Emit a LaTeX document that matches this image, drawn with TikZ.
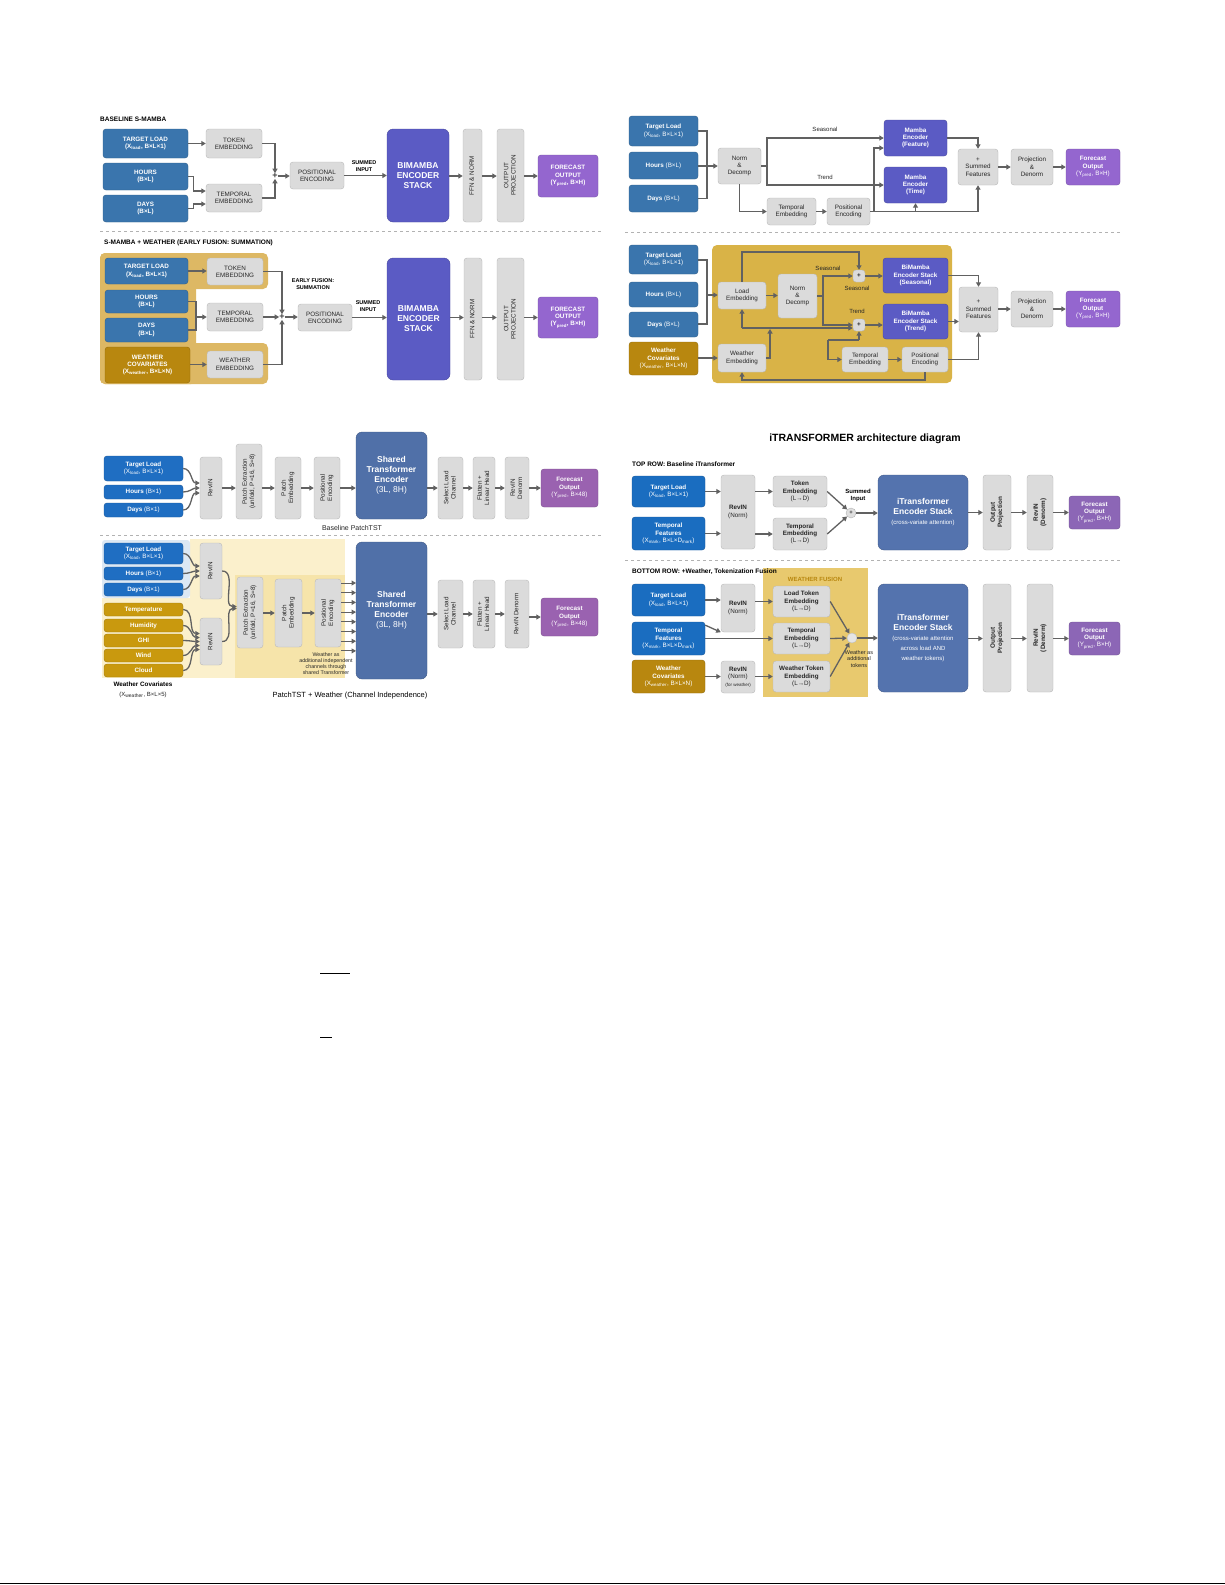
\documentclass[tikz,border=0pt]{standalone}
\usepackage{fontspec}
\setmainfont{Liberation Sans}
\usetikzlibrary{arrows.meta,calc}
\definecolor{smb}{HTML}{3A75AD}
\definecolor{bim}{HTML}{5B5BC4}
\definecolor{fcp}{HTML}{9466CF}
\definecolor{gdk}{HTML}{B8870F}
\definecolor{gbgA}{HTML}{DDB864}
\definecolor{gbgB}{HTML}{D9B347}
\definecolor{ptb}{HTML}{1F6EC2}
\definecolor{trb}{HTML}{5070A8}
\definecolor{fcq}{HTML}{9A62B0}
\definecolor{gch}{HTML}{C9990E}
\definecolor{cLb}{HTML}{DCE8F4}
\definecolor{ly1}{HTML}{FBF0CC}
\definecolor{ly2}{HTML}{F6E4AA}
\definecolor{itb}{HTML}{1A6DC0}
\definecolor{itr}{HTML}{5473AE}
\definecolor{fcr}{HTML}{8C66B6}
\definecolor{wfb}{HTML}{E8C96E}
\newcommand\rt[1]{\rotatebox{90}{\begin{tabular}{@{}c@{}}#1\end{tabular}}}
\newcommand\B[7]{\node[#2, minimum width={(#5-#3)*1pt}, minimum height={(#6-#4)*1pt}] (#1) at ({(#3+#5)/2},{(#4+#6)/2}) {#7};}
\tikzset{
 x=1pt,y=-1pt,
 base/.style={rounded corners=3pt, align=center, inner sep=0.5pt, font=\fontsize{6.3}{7.3}\selectfont},
 gb/.style={base, fill=gray!28, draw=gray!55, text=black!85},
 cb/.style={base, fill=#1, draw=#1!80!black, text=white, font=\bfseries\fontsize{6.3}{7.3}\selectfont},
 big/.style={base, fill=#1, draw=#1!80!black, text=white, rounded corners=6pt, font=\bfseries\fontsize{8.5}{10}\selectfont},
 ttl/.style={anchor=west, inner sep=0, font=\bfseries\fontsize{6.5}{8}\selectfont},
 lab/.style={inner sep=0, align=center, font=\fontsize{6}{7}\selectfont, text=black!85},
 blab/.style={inner sep=0, align=center, font=\bfseries\fontsize{5.5}{6.5}\selectfont},
 pls/.style={inner sep=0, font=\bfseries\fontsize{9}{9}\selectfont, text=black!75},
 ln/.style={draw=black!62, line width=1.3pt},
 arr/.style={draw=black!62, line width=1.3pt, -{Triangle[length=4.5pt,width=5pt]}},
 dsh/.style={draw=gray!60, dashed, line width=0.7pt},
}
\begin{document}
\begin{tikzpicture}
\useasboundingbox[fill=white] (0,0) rectangle (1225,1585);
%================ PANEL 1 =================
\node[ttl] (p1t) at (100,119) {BASELINE S-MAMBA};
\B{p1tl}{cb=smb}{103}{129}{188}{158}{TARGET LOAD\\(X\textsubscript{load}, B×L×1)}
\B{p1hr}{cb=smb}{103}{163}{188}{190}{HOURS\\(B×L)}
\B{p1dy}{cb=smb}{103}{195}{188}{222}{DAYS\\(B×L)}
\B{p1tok}{gb}{206}{129}{262}{158}{TOKEN\\EMBEDDING}
\B{p1tmp}{gb}{206}{184}{262}{212}{TEMPORAL\\EMBEDDING}
\node[pls] (p1pl) at (275,176) {+};
\B{p1pos}{gb}{290}{162}{344}{189}{POSITIONAL\\ENCODING}
\node[blab] (p1sum) at (364,166) {SUMMED\\INPUT};
\B{p1bim}{big=bim}{387}{129}{449}{222}{BIMAMBA\\ENCODER\\STACK}
\B{p1ffn}{gb}{463}{129}{482}{222}{\rt{FFN \& NORM}}
\B{p1out}{gb}{497}{129}{524}{222}{\rt{OUTPUT\\PROJECTION}}
\B{p1fc}{cb=fcp}{538}{155}{598}{197}{FORECAST\\OUTPUT\\(Y\textsubscript{pred}, B×H)}
\draw[arr] (p1tl.east) -- (p1tl.east -| p1tok.west);
\draw[arr] (p1tok.east) -| (p1pl.north);
\draw[arr] (p1tmp.east) -| (p1pl.south);
\draw[arr] (p1hr.east) -- ++(5,0) |- ($(p1tmp.west)+(0,-7)$);
\draw[arr] (p1dy.east) -- ++(5,0) |- ($(p1tmp.west)+(0,6)$);
\draw[arr] (p1pl.east) -- (p1pl.east -| p1pos.west);
\draw[arr] (p1pos.east) -- (p1pos.east -| p1bim.west);
\draw[arr] (p1bim.east |- p1fc.west) -- (p1ffn.west |- p1fc.west);
\draw[arr] (p1ffn.east |- p1fc.west) -- (p1out.west |- p1fc.west);
\draw[arr] (p1out.east |- p1fc.west) -- (p1fc.west);
\draw[dsh] (100,231) -- (602,231);
%================ PANEL 1b =================
\fill[gbgA, rounded corners=5pt] (100,253) rectangle (268,289);
\fill[gbgA, rounded corners=5pt] (100,253) rectangle (196,384);
\fill[gbgA, rounded corners=5pt] (100,343) rectangle (268,384);
\node[ttl] (p2t) at (104,243) {S-MAMBA + WEATHER (EARLY FUSION: SUMMATION)};
\B{p2tl}{cb=smb}{105}{258}{188}{284}{TARGET LOAD\\(X\textsubscript{load}, B×L×1)}
\B{p2hr}{cb=smb}{105}{290}{188}{313}{HOURS\\(B×L)}
\B{p2dy}{cb=smb}{105}{318}{188}{342}{DAYS\\(B×L)}
\B{p2wc}{cb=gdk}{105}{347}{190}{383}{WEATHER\\COVARIATES\\(X\textsubscript{weather}, B×L×N)}
\B{p2tok}{gb}{207}{258}{263}{285}{TOKEN\\EMBEDDING}
\B{p2tmp}{gb}{207}{303}{263}{331}{TEMPORAL\\EMBEDDING}
\B{p2wem}{gb}{207}{351}{263}{378}{WEATHER\\EMBEDDING}
\node[pls] (p2pl) at (282,317) {+};
\node[blab] (p2ef) at (313,284) {EARLY FUSION:\\SUMMATION};
\B{p2pos}{gb}{298}{304}{352}{331}{POSITIONAL\\ENCODING}
\node[blab] (p2sum) at (368,306) {SUMMED\\INPUT};
\B{p2bim}{big=bim}{387}{258}{450}{380}{BIMAMBA\\ENCODER\\STACK}
\B{p2ffn}{gb}{464}{258}{482}{380}{\rt{FFN \& NORM}}
\B{p2out}{gb}{497}{258}{524}{380}{\rt{OUTPUT\\PROJECTION}}
\B{p2fc}{cb=fcp}{538}{297}{598}{338}{FORECAST\\OUTPUT\\(Y\textsubscript{pred}, B×H)}
\coordinate (p2br) at (196,317);
\draw[ln] (p2hr.east) -| (p2br) |- (p2dy.east);
\draw[arr] (p2br) -- (p2br -| p2tmp.west);
\draw[arr] (p2tl.east) -- (p2tl.east -| p2tok.west);
\draw[arr] (p2wc.east |- p2wem.west) -- (p2wem.west);
\draw[arr] (p2tok.east) -| (p2pl.north);
\draw[arr] (p2tmp.east |- p2pl.west) -- (p2pl.west);
\draw[arr] (p2wem.east) -| (p2pl.south);
\draw[arr] (p2pl.east) -- (p2pl.east -| p2pos.west);
\draw[arr] (p2pos.east) -- (p2pos.east -| p2bim.west);
\draw[arr] (p2bim.east |- p2fc.west) -- (p2ffn.west |- p2fc.west);
\draw[arr] (p2ffn.east |- p2fc.west) -- (p2out.west |- p2fc.west);
\draw[arr] (p2out.east |- p2fc.west) -- (p2fc.west);
%================ PANEL 2 =================
\B{p3tl}{cb=smb}{629}{116}{698}{146}{Target Load\\\mdseries(X\textsubscript{load}, B×L×1)}
\B{p3hr}{cb=smb}{629}{152}{698}{179}{Hours \mdseries(B×L)}
\B{p3dy}{cb=smb}{629}{185}{698}{212}{Days \mdseries(B×L)}
\B{p3nd}{gb}{718}{148}{761}{184}{Norm\\\&\\Decomp}
\B{p3mf}{cb=bim}{884}{120}{947}{156}{Mamba\\Encoder\\(Feature)}
\B{p3mt}{cb=bim}{884}{167}{947}{203}{Mamba\\Encoder\\(Time)}
\B{p3te}{gb}{767}{198}{816}{225}{Temporal\\Embedding}
\B{p3pe}{gb}{827}{198}{870}{225}{Positional\\Encoding}
\B{p3sf}{gb}{958}{149}{998}{185}{+\\Summed\\Features}
\B{p3pd}{gb}{1011}{149}{1053}{185}{Projection\\\&\\Denorm}
\B{p3fc}{cb=fcp}{1066}{149}{1120}{185}{Forecast\\Output\\\mdseries(Y\textsubscript{pred}, B×H)}
\node[lab] (p3sl) at (825,129) {Seasonal};
\node[lab] (p3trl) at (825,177) {Trend};
\coordinate (p3b) at (707,166);
\draw[ln] (p3tl.east) -| (p3b) |- (p3dy.east);
\draw[arr] (p3hr.east |- p3nd.west) -- (p3nd.west);
\coordinate (p3s) at (767,166);
\draw[ln] (p3nd.east) -- (p3s);
\draw[arr] (p3s) |- (p3mf.west);
\draw[arr] (p3s) |- (p3mt.west);
\draw[arr] (p3nd.south) |- (p3te.west);
\draw[arr] (p3te.east) -- (p3te.east -| p3pe.west);
\coordinate (p3j) at (874,211.5);
\draw[arr] (p3pe.east) -| (p3sf.south);
\draw[arr] (p3j) |- ($(p3mf.west)+(0,10)$);
\draw[arr] (p3mt.south |- p3j) -- (p3mt.south);
\draw[arr] (p3mf.east) -| (p3sf.north);
\draw[arr] (p3sf.east) -- (p3pd.west);
\draw[arr] (p3pd.east) -- (p3fc.west);
\draw[dsh] (625,232) -- (1120,232);
%================ PANEL 2b =================
\fill[gbgB, rounded corners=5pt] (712,245) rectangle (952,383);
\B{p4tl}{cb=smb}{629}{245}{698}{274}{Target Load\\\mdseries(X\textsubscript{load}, B×L×1)}
\B{p4hr}{cb=smb}{629}{282}{698}{307}{Hours \mdseries(B×L)}
\B{p4dy}{cb=smb}{629}{312}{698}{337}{Days \mdseries(B×L)}
\B{p4wc}{cb=gdk}{629}{342}{698}{375}{Weather\\Covariates\\\mdseries(X\textsubscript{weather}, B×L×N)}
\B{p4le}{gb}{718}{282}{766}{309}{Load\\Embedding}
\B{p4nd}{gb}{778}{274}{817}{318}{Norm\\\&\\Decomp}
\B{p4ps}{gb}{853}{270}{865}{282}{\bfseries+}
\B{p4pt}{gb}{853}{319}{865}{331}{\bfseries+}
\B{p4bs}{cb=bim}{883}{258}{948}{293}{BiMamba\\Encoder Stack\\(Seasonal)}
\B{p4bt}{cb=bim}{883}{304}{948}{339}{BiMamba\\Encoder Stack\\(Trend)}
\B{p4sf}{gb}{959}{287}{998}{332}{+\\Summed\\Features}
\B{p4pd}{gb}{1011}{291}{1053}{327}{Projection\\\&\\Denorm}
\B{p4fc}{cb=fcp}{1066}{291}{1120}{327}{Forecast\\Output\\\mdseries(Y\textsubscript{pred}, B×H)}
\B{p4we}{gb}{718}{344}{766}{372}{Weather\\Embedding}
\B{p4te}{gb}{842}{347}{888}{372}{Temporal\\Embedding}
\B{p4pe}{gb}{902}{347}{948}{372}{Positional\\Encoding}
\node[lab] (p4sl1) at (828,268) {Seasonal};
\node[lab] (p4sl2) at (857,288) {Seasonal};
\node[lab] (p4trl) at (857,311) {Trend};
\coordinate (p4b) at (707,295);
\draw[ln] (p4tl.east |- 0,260) -| (p4b) |- (p4dy.east |- 0,324);
\draw[arr] (p4b) -- (p4b -| p4le.west);
\draw[arr] (p4wc.east |- p4we.west) -- (p4we.west);
\draw[arr] (p4le.east) -- (p4le.east -| p4nd.west);
\coordinate (p4s) at (823,296);
\draw[ln] (p4nd.east |- p4s) -- (p4s);
\draw[arr] (p4s) |- (p4ps.west);
\draw[arr] (p4s) |- (p4pt.west);
\draw[arr] (p4le.north) |- (859,252) -- (p4ps.north);
\coordinate (p4l) at (742,328);
\draw[arr] (p4l) -- (p4le.south);
\draw[arr] (p4l) -- (p4l -| p4pt.west);
\draw[arr] (p4we.east) -| (770,329);
\coordinate (p4k) at (828,340);
\draw[ln] (p4k) -- (859,340);
\draw[arr] (859,340) -- (p4pt.south);
\draw[arr] (p4k) |- (p4te.west);
\draw[arr] (p4ps.east) -- (p4ps.east -| p4bs.west);
\draw[arr] (p4pt.east) -- (p4pt.east -| p4bt.west);
\draw[arr] (p4te.east) -- (p4te.east -| p4pe.west);
\draw[arr] (p4pe.east) -| (p4sf.south);
\draw[arr] (p4pe.south) |- (742,380) -- (p4we.south);
\draw[arr] (p4bs.east) -| (p4sf.north);
\draw[arr] (p4bt.east) -- (p4bt.east -| p4sf.west);
\draw[arr] (p4sf.east |- p4pd.west) -- (p4pd.west);
\draw[arr] (p4pd.east) -- (p4fc.west);
%================ PANEL 3 =================
\B{p5tl}{cb=ptb}{104}{456}{183}{481}{Target Load\\\mdseries(X\textsubscript{load}, B×L×1)}
\B{p5hr}{cb=ptb}{104}{485}{183}{499}{Hours \mdseries(B×1)}
\B{p5dy}{cb=ptb}{104}{503}{183}{517}{Days \mdseries(B×1)}
\B{p5rev}{gb}{200}{457}{222}{519}{\rt{RevIN}}
\B{p5pex}{gb}{236}{444}{262}{519}{\rt{Patch Extraction\\(unfold, P=16, S=8)}}
\B{p5pem}{gb}{275}{457}{301}{519}{\rt{Patch\\Embedding}}
\B{p5pen}{gb}{314}{457}{340}{519}{\rt{Positional\\Encoding}}
\B{p5tr}{big=trb}{356}{432}{427}{519}{Shared\\Transformer\\Encoder\\\mdseries(3L, 8H)}
\B{p5sel}{gb}{438}{457}{463}{519}{\rt{Select Load\\Channel}}
\B{p5fl}{gb}{473}{457}{495}{519}{\rt{Flatten +\\Linear Head}}
\B{p5rd}{gb}{505}{457}{529}{519}{\rt{RevIN\\Denorm}}
\B{p5fc}{cb=fcq}{541}{469}{598}{507}{Forecast\\Output\\\mdseries(Y\textsubscript{pred}, B×48)}
\node[lab, font=\fontsize{7}{8}\selectfont] (p5lbl) at (352,528) {Baseline PatchTST};
\draw[arr] (p5tl.east) to[out=0,in=180] ($(p5rev.west)+(0,-5)$);
\draw[arr] (p5hr.east) to[out=0,in=180] (p5rev.west);
\draw[arr] (p5dy.east) to[out=0,in=180] ($(p5rev.west)+(0,5)$);
\draw[arr] (p5rev.east) -- (p5rev.east -| p5pex.west);
\draw[arr] (p5pex.east |- p5rev.east) -- (p5pem.west);
\draw[arr] (p5pem.east) -- (p5pen.west);
\draw[arr] (p5pen.east) -- (p5pen.east -| p5tr.west);
\draw[arr] (p5tr.east |- p5sel.west) -- (p5sel.west);
\draw[arr] (p5sel.east) -- (p5fl.west);
\draw[arr] (p5fl.east) -- (p5rd.west);
\draw[arr] (p5rd.east) -- (p5rd.east -| p5fc.west);
\draw[dsh] (100,535) -- (602,535);
%================ PANEL 3b =================
\fill[ly1] (190,539) rectangle (345,678);
\fill[ly1] (102,598) rectangle (190,678);
\fill[ly2] (235,575) rectangle (345,678);
\fill[cLb, rounded corners=3pt] (102,540) rectangle (190,598);
\B{p6tl}{cb=ptb}{104}{543}{183}{564}{Target Load\\\mdseries(X\textsubscript{load}, B×L×1)}
\B{p6hr}{cb=ptb}{104}{567}{183}{580}{Hours \mdseries(B×1)}
\B{p6dy}{cb=ptb}{104}{583}{183}{596}{Days \mdseries(B×1)}
\B{p6w1}{cb=gch}{104}{603}{183}{616}{Temperature}
\B{p6w2}{cb=gch}{104}{619}{183}{632}{Humidity}
\B{p6w3}{cb=gch}{104}{634}{183}{647}{GHI}
\B{p6w4}{cb=gch}{104}{649}{183}{662}{Wind}
\B{p6w5}{cb=gch}{104}{664}{183}{677}{Cloud}
\node[inner sep=0, font=\bfseries\fontsize{6.3}{7}\selectfont] (p6wl) at (143,684) {Weather Covariates};
\node[lab] (p6ws) at (143,695) {(X\textsubscript{weather}, B×L×5)};
\B{p6ra}{gb}{200}{543}{222}{599}{\rt{RevIN}}
\B{p6rb}{gb}{200}{618}{222}{665}{\rt{RevIN}}
\B{p6pex}{gb}{237}{577}{263}{648}{\rt{Patch Extraction\\(unfold, P=16, S=8)}}
\B{p6pem}{gb}{275}{579}{302}{647}{\rt{Patch\\Embedding}}
\B{p6pen}{gb}{315}{579}{341}{647}{\rt{Positional\\Encoding}}
\B{p6tr}{big=trb}{356}{542}{427}{679}{Shared\\Transformer\\Encoder\\\mdseries(3L, 8H)}
\B{p6sel}{gb}{438}{580}{463}{648}{\rt{Select Load\\Channel}}
\B{p6fl}{gb}{473}{580}{495}{648}{\rt{Flatten +\\Linear Head}}
\B{p6rd}{gb}{505}{580}{529}{648}{\rt{RevIN Denorm}}
\B{p6fc}{cb=fcq}{541}{598}{598}{636}{Forecast\\Output\\\mdseries(Y\textsubscript{pred}, B×48)}
\node[lab, font=\fontsize{5.3}{6}\selectfont] (p6note) at (326,664) {Weather as\\additional independent\\channels through\\shared Transformer};
\draw[arr] (p6tl.east) to[out=0,in=180] ($(p6ra.west)+(0,-5)$);
\draw[arr] (p6hr.east) to[out=0,in=180] (p6ra.west);
\draw[arr] (p6dy.east) to[out=0,in=180] ($(p6ra.west)+(0,5)$);
\foreach \i/\d in {1/-8,2/-4,3/0,4/4,5/8}
  \draw[arr] (p6w\i.east) to[out=0,in=180] ($(p6rb.west)+(0,\d)$);
\draw[arr] (p6ra.east) to[out=0,in=180] ($(p6pex.west)+(0,-6)$);
\draw[arr] (p6rb.east) to[out=0,in=180] ($(p6pex.west)+(0,-4)$);
\draw[arr] (p6pex.east |- p6pem.west) -- (p6pem.west);
\draw[arr] (p6pem.east) -- (p6pen.west);
\foreach \k in {0,...,7}
  \draw[arr, line width=1pt] (341,583+\k*9.7) -- (356,583+\k*9.7);
\draw[arr] (p6tr.east |- p6sel.west) -- (p6sel.west);
\draw[arr] (p6sel.east) -- (p6fl.west);
\draw[arr] (p6fl.east) -- (p6rd.west);
\draw[arr] (p6rd.east |- p6fc.west) -- (p6fc.west);
\node[lab, font=\fontsize{7.5}{9}\selectfont, text=black] (p6lbl) at (350,696) {PatchTST + Weather (Channel Independence)};
%================ PANEL 4 =================
\node[inner sep=0, font=\bfseries\fontsize{10.5}{12}\selectfont] (p7t) at (865,439) {iTRANSFORMER architecture diagram};
\node[ttl] (p7r1) at (632,464) {TOP ROW: Baseline iTransformer};
\B{p7tl}{cb=itb}{632}{476}{705}{507}{Target Load\\\mdseries(X\textsubscript{load}, B×L×1)}
\B{p7tf}{cb=itb}{632}{517}{705}{550}{Temporal\\Features\\\mdseries(X\textsubscript{mark}, B×L×D\textsubscript{mark})}
\B{p7rev}{gb}{721}{475}{755}{549}{\bfseries RevIN\\(Norm)}
\B{p7tok}{gb}{773}{476}{827}{507}{\bfseries Token\\\bfseries Embedding\\(L→D)}
\B{p7tmp}{gb}{773}{518}{827}{550}{\bfseries Temporal\\\bfseries Embedding\\(L→D)}
\node[circle, fill=gray!25, draw=gray!60, inner sep=0, minimum size=10pt, font=\fontsize{6}{6}\selectfont] (p7c) at (851,513) {+};
\node[blab, font=\bfseries\fontsize{6}{7}\selectfont] (p7si) at (858,495) {Summed\\Input};
\B{p7it}{big=itr}{878}{475}{968}{550}{iTransformer\\Encoder Stack\\\mdseries\fontsize{6}{7}\selectfont(cross-variate attention)}
\B{p7op}{gb}{983}{475}{1011}{550}{\bfseries\rt{Output\\Projection}}
\B{p7rd}{gb}{1027}{475}{1053}{550}{\bfseries\rt{RevIN\\(Denorm)}}
\B{p7fc}{cb=fcr}{1069}{496}{1120}{529}{Forecast\\Output\\\mdseries(Y\textsubscript{pred}, B×H)}
\draw[arr] (p7tl.east) -- (p7tl.east -| p7rev.west);
\draw[arr] (p7tf.east) -- (p7tf.east -| p7rev.west);
\draw[arr] (p7rev.east |- p7tok.west) -- (p7tok.west);
\draw[arr] (p7rev.east |- p7tmp.west) -- (p7tmp.west);
\draw[arr] (p7tok.east) -- (p7c);
\draw[arr] (p7tmp.east) -- (p7c);
\draw[arr] (p7c) -- (p7c -| p7it.west);
\draw[arr] (p7it.east |- p7fc.west) -- (p7op.west |- p7fc.west);
\draw[arr] (p7op.east |- p7fc.west) -- (p7rd.west |- p7fc.west);
\draw[arr] (p7rd.east |- p7fc.west) -- (p7fc.west);
\draw[dsh] (625,560) -- (1120,560);
%================ PANEL 4b =================
\fill[wfb] (763,568) rectangle (868,697);
\node[inner sep=0, font=\bfseries\fontsize{6}{7}\selectfont, text=gdk] (p8wf) at (815,579) {WEATHER FUSION};
\node[ttl] (p8r2) at (632,572) {BOTTOM ROW: +Weather, Tokenization Fusion};
\B{p8tl}{cb=itb}{632}{584}{705}{616}{Target Load\\\mdseries(X\textsubscript{load}, B×L×1)}
\B{p8tf}{cb=itb}{632}{622}{705}{655}{Temporal\\Features\\\mdseries(X\textsubscript{mark}, B×L×D\textsubscript{mark})}
\B{p8wc}{cb=gdk}{632}{660}{705}{693}{Weather\\Covariates\\\mdseries(X\textsubscript{weather}, B×L×N)}
\B{p8rev}{gb}{721}{584}{755}{632}{\bfseries RevIN\\(Norm)}
\B{p8rw}{gb}{721}{661}{755}{693}{\bfseries RevIN\\(Norm)\\\fontsize{4.5}{5}\selectfont(for weather)}
\B{p8lt}{gb}{773}{586}{830}{617}{\bfseries Load Token\\\bfseries Embedding\\(L→D)}
\B{p8tm}{gb}{773}{623}{830}{654}{\bfseries Temporal\\\bfseries Embedding\\(L→D)}
\B{p8wt}{gb}{773}{661}{830}{692}{\bfseries Weather Token\\\bfseries Embedding\\(L→D)}
\node[circle, fill=gray!20, draw=gray!50, inner sep=0, minimum size=10pt] (p8c) at (852,638) {};
\node[lab, font=\fontsize{5.5}{6.5}\selectfont] (p8wa) at (859,659) {Weather as\\additional\\tokens};
\B{p8it}{big=itr}{878}{584}{968}{692}{iTransformer\\Encoder Stack\\\mdseries\fontsize{6}{7}\selectfont(cross-variate attention\\\mdseries\fontsize{6}{7}\selectfont across load AND\\\mdseries\fontsize{6}{7}\selectfont weather tokens)}
\B{p8op}{gb}{983}{584}{1011}{692}{\bfseries\rt{Output\\Projection}}
\B{p8rd}{gb}{1027}{584}{1053}{692}{\bfseries\rt{RevIN\\(Denorm)}}
\B{p8fc}{cb=fcr}{1069}{622}{1120}{655}{Forecast\\Output\\\mdseries(Y\textsubscript{pred}, B×H)}
\draw[arr] (p8tl.east) -- (p8tl.east -| p8rev.west);
\draw[arr] (p8tf.20) -- (p8rev.south west);
\draw[arr] (p8tf.east) -- (p8tf.east -| p8tm.west);
\draw[arr] (p8wc.east) -- (p8wc.east -| p8rw.west);
\draw[arr] (p8rev.east |- p8lt.west) -- (p8lt.west);
\draw[arr] (p8rw.east |- p8wt.west) -- (p8wt.west);
\draw[arr] (p8lt.east) -- (p8c);
\draw[arr] (p8tm.east) -- (p8c);
\draw[arr] (p8wt.east) -- (p8c);
\draw[arr] (p8c) -- (p8c -| p8it.west);
\draw[arr] (p8it.east |- p8fc.west) -- (p8op.west |- p8fc.west);
\draw[arr] (p8op.east |- p8fc.west) -- (p8rd.west |- p8fc.west);
\draw[arr] (p8rd.east |- p8fc.west) -- (p8fc.west);
%================ stray marks =================
\draw[line width=0.8pt] (320,973) -- (350,973);
\draw[line width=0.8pt] (320,1037) -- (332,1037);
\draw[line width=1pt] (0,1583) -- (1225,1583);
\end{tikzpicture}
\end{document}
